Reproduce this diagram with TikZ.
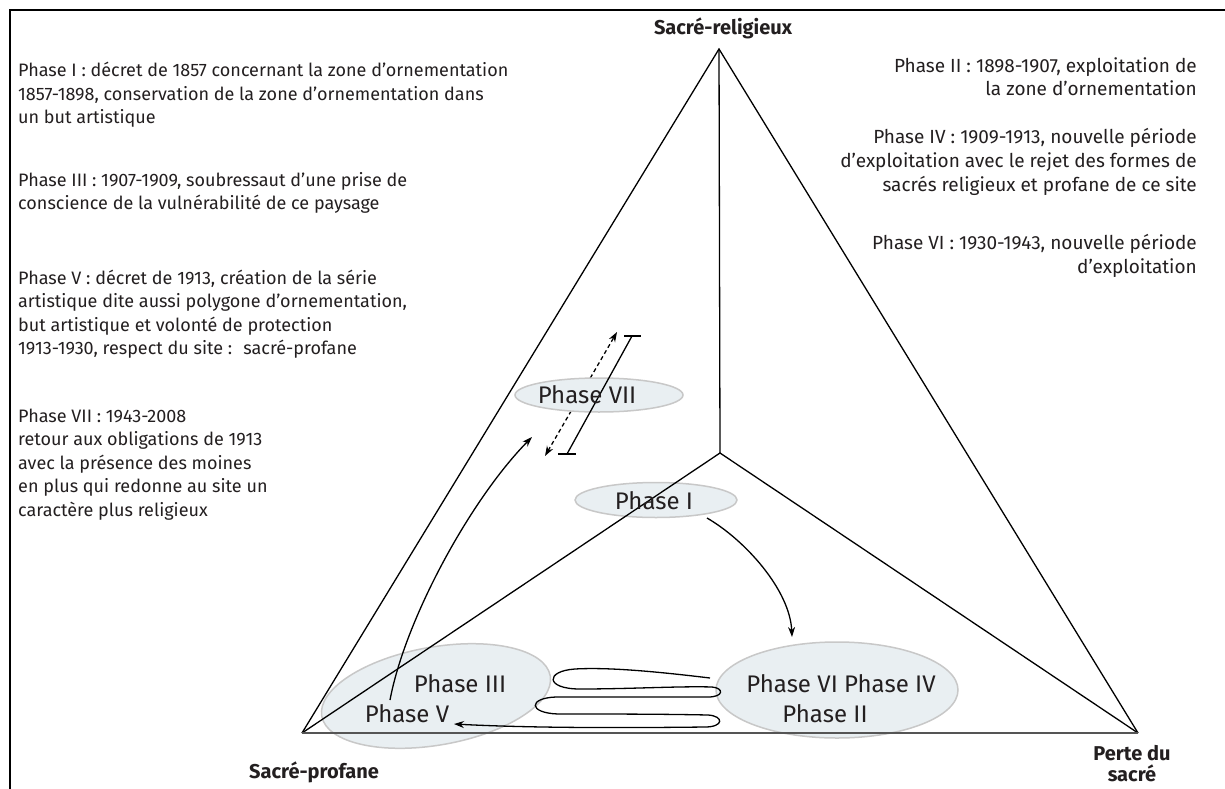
\documentclass[tikz,border=0pt]{standalone}
\usepackage{fontspec}
\setmainfont{Fira Sans}
\usetikzlibrary{arrows.meta,shapes.geometric}
\definecolor{ellfill}{RGB}{233,239,242}
\definecolor{elldraw}{RGB}{200,200,200}
\definecolor{txt}{RGB}{35,31,32}
\definecolor{basegray}{RGB}{85,85,85}
\begin{document}
\begin{tikzpicture}[x=1pt,y=-1pt,
  ell/.style={ellipse, draw=elldraw, fill=ellfill, line width=1.5pt, inner sep=0pt},
  tri/.style={line width=1.3pt, black},
  descl/.style={font=\fontsize{18}{23.5}\selectfont, text=txt, inner sep=0pt, align=left, anchor=base west},
  descr/.style={font=\fontsize{19}{24}\selectfont, text=txt, inner sep=0pt, align=right, anchor=base east},
  lab/.style={font=\fontsize{24}{28}\selectfont, text=txt, inner sep=0pt},
  corner/.style={font=\bfseries\fontsize{20}{21}\selectfont, text=txt, inner sep=0pt, align=center},
  arr/.style={line width=1.3pt, -{Stealth[length=10pt,width=7pt]}},
  darr/.style={line width=1.3pt, dash pattern=on 4pt off 3pt, {Stealth[length=10pt,width=7pt]}-{Stealth[length=10pt,width=7pt]}}]
\useasboundingbox (0,0) rectangle (1225,789);
\fill[white] (0,0) rectangle (1225,789);
% frame
\draw[line width=2.5pt] (10,789) -- (10,10) -- (1225,10);
% vertices
\coordinate (A) at (719,49);
\coordinate (L) at (302,733);
\coordinate (R) at (1138,733);
\coordinate (C) at (720,453);
% dashed double arrow (behind Phase VII ellipse)
\coordinate (d1) at (545,456);
\coordinate (d2) at (617,332);
\draw[darr] (d1) -- (d2);
% ellipses
\node[ell, minimum width=168pt, minimum height=34pt] (e7) at (599,395) {};
\node[ell, minimum width=162pt, minimum height=35pt] (e1) at (656,500) {};
\node[ell, minimum width=232pt, minimum height=98pt, rotate=10] (e3) at (436,696) {};
\node[ell, minimum width=242pt, minimum height=96pt] (e6) at (837,690) {};
% triangle
\draw[tri] (L) -- (A) -- (R);
\draw[tri] (A) -- (C);
\draw[tri] (L) -- (C) -- (R);
\draw[line width=2.2pt, basegray] (L) -- (R);
% solid bar line
\coordinate (b1) at (567,454);
\coordinate (b2) at (632,336);
\draw[tri] (b1) -- (b2);
\draw[tri] ([xshift=-9pt]b1) -- ([xshift=9pt]b1);
\draw[tri] ([xshift=-8pt]b2) -- ([xshift=9pt]b2);
% ellipse labels
\node[lab] (l7) at (587,395) {Phase VII};
\node[lab] (l1) at (654,501) {Phase I};
\node[lab] (l3) at (460,684) {Phase III};
\node[lab] (l5) at (407,714) {Phase V};
\node[lab] (l64) at (841,684) {Phase VI Phase IV};
\node[lab] (l2) at (825,714) {Phase II};
% arrows
\coordinate (s5) at (390,700);
\coordinate (t5) at (532,437);
\draw[arr] (s5) .. controls (405,620) and (470,500) .. (t5);
\coordinate (s1) at (707,518);
\coordinate (t1) at (792,637);
\draw[arr] (s1) .. controls (745,540) and (790,590) .. (t1);
% loops
\coordinate (ls) at (710,678);
\coordinate (le) at (454,724);
\draw[arr] (ls) .. controls (660,672) and (610,667) .. (575,669)
  .. controls (545,671) and (545,689) .. (580,689)
  .. controls (630,689) and (680,686) .. (712,687)
  .. controls (724,688) and (724,697) .. (708,697)
  .. controls (660,697) and (610,697) .. (556,697)
  .. controls (528,698) and (528,713) .. (558,714)
  .. controls (610,714) and (660,714) .. (708,715)
  .. controls (724,716) and (724,727) .. (705,727)
  .. controls (620,728) and (530,728) .. (le);
% corner labels
\node[corner] (sr) at (723,28) {Sacré-religieux};
\node[corner] (sp) at (314,772) {Sacré-profane};
\node[corner] (ps) at (1132,764) {Perte du\\sacré};
% left texts (anchor = baseline of last line)
\node[descl] (g1) at (18,124) {Phase I : décret de 1857 concernant la zone d'ornementation\\1857-1898, conservation de la zone d'ornementation dans\\un but artistique};
\node[descl] (g3) at (18,209.5) {Phase III : 1907-1909, soubressaut d'une prise de\\conscience de la vulnérabilité de ce paysage};
\node[descl] (g5) at (18,354.5) {Phase V : décret de 1913, création de la série\\artistique dite aussi polygone d'ornementation,\\but artistique et volonté de protection\\1913-1930, respect du site : \ sacré-profane};
\node[descl] (g7) at (18,516) {Phase VII : 1943-2008\\retour aux obligations de 1913\\avec la présence des moines\\en plus qui redonne au site un\\caractère plus religieux};
% right texts (anchor = baseline of last line)
\node[descr] (g2) at (1197,96) {Phase II : 1898-1907, exploitation de\\la zone d'ornementation};
\node[descr] (g4) at (1197,191) {Phase IV : 1909-1913, nouvelle période\\d'exploitation avec le rejet des formes de\hspace*{6pt}\\sacrés religieux et profane de ce site};
\node[descr] (g6) at (1197,273) {Phase VI : 1930-1943, nouvelle période\\d'exploitation};
\end{tikzpicture}
\end{document}
